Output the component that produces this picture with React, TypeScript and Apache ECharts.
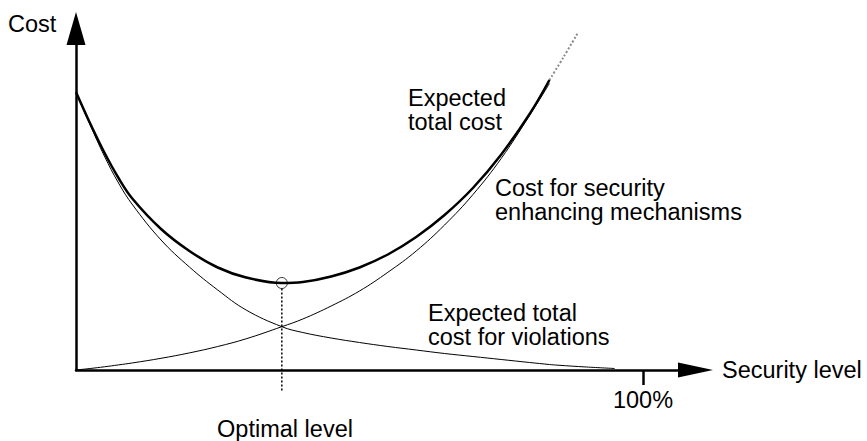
import React, { useEffect, useRef } from "react";
import * as echarts from "echarts";

// Security level (0..100 %) sample positions
const LEVELS = [0, 2.5, 5, 7.5, 10, 15, 20, 25, 30, 36.3, 40, 45, 50, 55, 60, 65, 70, 75, 80, 83.5];
const MECHANISM_COST = [0, 1.5, 3.2, 5.1, 7.1, 11.7, 17.1, 23.5, 31.2, 43.3, 51, 64, 79, 97.7, 119, 145, 175.4, 211.6, 254.6, 286.5];
const VIOLATION_LEVELS = [0, 2.5, 5, 7.5, 10, 15, 20, 25, 30, 36.3, 40, 45, 50, 55, 60, 65, 70, 75, 80, 83.5, 85, 90, 95];
const VIOLATION_COST = [278, 245, 214, 187, 165, 130, 103, 80, 60, 43.3, 37.5, 32, 27.5, 23.5, 20, 16.5, 13.5, 10.5, 7.5, 5.5, 4.8, 3, 1.5];
const TOTAL_COST = [278, 246.5, 217.5, 192, 171, 141, 119, 102.5, 92.5, 87, 88, 93.5, 102.5, 115.5, 133, 155, 182, 215.5, 256, 290];
const EXTENSION_LEVELS = [83.5, 86, 88.5];
const EXTENSION_COST = [290, 313, 337];
const OPTIMAL_LEVEL = 36.3;
const OPTIMAL_COST = 87;
const OPTIMAL_DROP = -21;
const X_TICKS = [100];

const FONT = '"Liberation Sans", Arial, Helvetica, sans-serif';

const zip = (xs: number[], ys: number[]) => xs.map((x, i) => [x, ys[i]]);

export default function App() {
  const ref = useRef<HTMLDivElement>(null);
  useEffect(() => {
    if (!ref.current) return;
    const chart = echarts.init(ref.current, undefined, { renderer: "svg" });
    const textStyle = (text: string, x: number, y: number, align = "left") => ({
      type: "text",
      x,
      y,
      silent: true,
      style: {
        text,
        fill: "#000",
        fontSize: 23.5,
        fontFamily: FONT,
        lineHeight: 24,
        align,
        verticalAlign: "middle",
        textAlign: align,
        textVerticalAlign: "middle",
      },
    });
    chart.setOption({
      animation: false,
      backgroundColor: "#fff",
      grid: {
        left: 76,
        right: 171.5,
        top: 28.5,
        bottom: 71,
        containLabel: false,
        outerBoundsMode: "none",
      },
      xAxis: {
        type: "value",
        min: 0,
        max: 109.26,
        name: "Security level",
        nameLocation: "end",
        nameGap: 26.5,
        nameTextStyle: { color: "#000", fontSize: 23.5, fontFamily: FONT },
        axisLine: {
          show: true,
          symbol: ["none", "triangle"],
          symbolSize: [15, 35],
          lineStyle: { color: "#000", width: 2.5 },
        },
        axisTick: {
          show: true,
          customValues: X_TICKS,
          length: 15,
          lineStyle: { color: "#000", width: 2.5 },
        },
        axisLabel: {
          show: true,
          customValues: X_TICKS,
          formatter: "{value}%",
          color: "#000",
          fontSize: 23.5,
          fontFamily: FONT,
          margin: 18,
        },
        splitLine: { show: false },
      },
      yAxis: {
        type: "value",
        min: 0,
        max: 341.5,
        axisLine: {
          show: true,
          symbol: ["none", "triangle"],
          symbolSize: [19, 33],
          lineStyle: { color: "#000", width: 2.5 },
        },
        axisTick: { show: false },
        axisLabel: { show: false },
        splitLine: { show: false },
      },
      series: [
        {
          type: "line",
          data: zip(VIOLATION_LEVELS, VIOLATION_COST),
          showSymbol: false,
          smooth: 0.4,
          lineStyle: { color: "#000", width: 1 },
          z: 2,
        },
        {
          type: "line",
          data: zip(LEVELS, MECHANISM_COST),
          showSymbol: false,
          smooth: 0.4,
          lineStyle: { color: "#000", width: 1 },
          z: 2,
        },
        {
          type: "line",
          data: zip(EXTENSION_LEVELS, EXTENSION_COST),
          showSymbol: false,
          smooth: 0.3,
          lineStyle: { color: "#8a8a8a", width: 2, type: [2, 2] },
          z: 2,
        },
        {
          type: "line",
          data: zip(LEVELS, TOTAL_COST),
          showSymbol: false,
          smooth: 0.4,
          lineStyle: { color: "#000", width: 2.5 },
          z: 3,
        },
        {
          type: "custom",
          data: [[OPTIMAL_LEVEL, OPTIMAL_COST, OPTIMAL_DROP]],
          encode: { x: 0, y: 1 },
          clip: false,
          silent: true,
          z: 4,
          renderItem: (params: any, api: any) => {
            const top = api.coord([api.value(0), api.value(1)]);
            const bottom = api.coord([api.value(0), api.value(2)]);
            return {
              type: "line",
              shape: { x1: top[0], y1: top[1] + 5.5, x2: bottom[0], y2: bottom[1] },
              style: { stroke: "#000", lineWidth: 1.5, lineDash: [2, 2] },
            };
          },
        },
        {
          type: "scatter",
          data: [[OPTIMAL_LEVEL, OPTIMAL_COST]],
          symbol: "circle",
          symbolSize: 11,
          itemStyle: { color: "rgba(0,0,0,0)", borderColor: "#000", borderWidth: 1 },
          silent: true,
          z: 5,
        },
      ],
      graphic: [
        textStyle("Cost", 8, 23.5),
        textStyle("Expected\ntotal cost", 408, 110.4),
        textStyle("Cost for security\nenhancing mechanisms", 495, 200.4),
        textStyle("Expected total\ncost for violations", 428, 325.4),
        textStyle("Optimal level", 285, 428.5, "center"),
      ],
    });
    return () => chart.dispose();
  }, []);
  return (
    <div
      ref={ref}
      style={{ position: "fixed", left: 0, top: 0, width: 867, height: 441 }}
    />
  );
}
